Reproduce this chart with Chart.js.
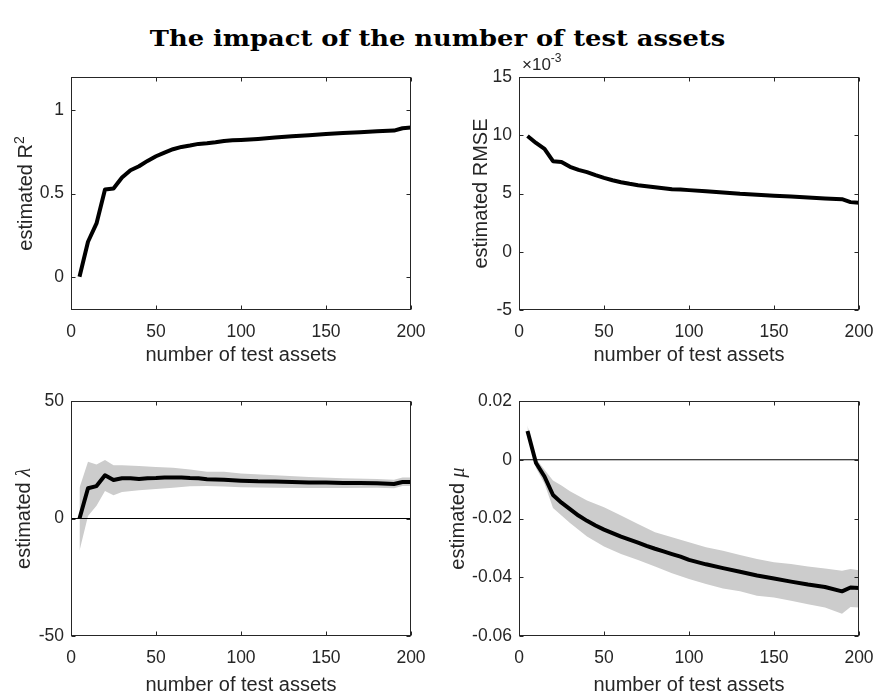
<!DOCTYPE html>
<html>
<head>
<meta charset="utf-8">
<script src="https://cdn.jsdelivr.net/npm/chart.js@4.4.1/dist/chart.umd.min.js"></script>
<style>
  body { margin: 0; background: #fff; }
  #fig { position: relative; width: 875px; height: 697px; overflow: hidden; background: #fff; }
  #fig h1 { position: absolute; left: 0; top: 25px; width: 875px; margin: 0; text-align: center;
            font: bold 22px "DejaVu Serif", serif; color: #000; transform: scaleX(1.17); }
  #fig canvas { position: absolute; }
</style>
</head>
<body>
<div id="fig">
  <h1>The impact of the number of test assets</h1>
  <canvas id="r2Chart"     width="427" height="330" style="left:0;top:40px"></canvas>
  <canvas id="rmseChart"   width="438" height="330" style="left:437px;top:40px"></canvas>
  <canvas id="lambdaChart" width="427" height="317" style="left:0;top:380px"></canvas>
  <canvas id="muChart"     width="438" height="317" style="left:437px;top:380px"></canvas>
</div>
<script>
// number of test assets in each run
var nAssets = [5, 10, 15, 20, 25, 30, 35, 40, 45, 50, 55, 60, 65, 70, 75, 80, 85, 90, 95, 100,
               110, 120, 130, 140, 150, 160, 170, 180, 190, 195, 200];

var r2 = [0, 0.21, 0.32, 0.524, 0.53, 0.596, 0.64, 0.664, 0.696, 0.724, 0.746, 0.766, 0.78, 0.788, 0.798,
          0.802, 0.808, 0.816, 0.82, 0.822, 0.828, 0.836, 0.844, 0.85, 0.858, 0.864, 0.868, 0.874, 0.878,
          0.892, 0.896];

var rmse = [0.00994, 0.00934, 0.00883, 0.00777, 0.00771, 0.00729, 0.00703, 0.00683, 0.00657, 0.00634,
            0.00614, 0.00597, 0.00583, 0.00571, 0.00563, 0.00554, 0.00546, 0.00537, 0.00534, 0.00529,
            0.0052, 0.00509, 0.00497, 0.00489, 0.0048, 0.00474, 0.00466, 0.00457, 0.00451, 0.00426, 0.0042];

var lambda = [0, 12.9, 13.8, 18.4, 16.4, 17.1, 17.1, 16.8, 17.1, 17.2, 17.4, 17.4, 17.4, 17.2, 17.1,
              16.7, 16.6, 16.5, 16.3, 16.1, 15.8, 15.7, 15.5, 15.3, 15.3, 15.1, 15.1, 15.0, 14.7, 15.5, 15.5];

var lambdaBandX = [5, 10, 15, 20, 25, 30, 40, 50, 60, 70, 80, 90, 100, 120, 140, 160, 180, 190, 195, 200];
var lambdaUpper = [13.1, 24.2, 23, 24.9, 22.7, 22.7, 22.3, 21.9, 21.6, 20.9, 19.9, 19.9, 19.1, 18.4,
                   17.7, 17.1, 16.8, 16.5, 17.4, 17.4];
var lambdaLower = [-13.7, 1.1, 5.4, 11.7, 9.9, 11.3, 12, 12.6, 13.1, 13.7, 13.8, 13.6, 13.3, 13.1,
                   13, 13, 13.1, 12.9, 13.8, 13.8];

var mu = [0.0098, -0.0011, -0.0057, -0.012, -0.0146, -0.0168, -0.019, -0.0208, -0.0224, -0.0238,
          -0.025, -0.0262, -0.0272, -0.0282, -0.0293, -0.0303, -0.0312, -0.0321, -0.033, -0.0341,
          -0.0356, -0.0369, -0.0381, -0.0394, -0.0404, -0.0415, -0.0425, -0.0433, -0.0448, -0.0435, -0.0437];

var muBandX = [5, 10, 15, 20, 25, 30, 40, 50, 60, 70, 80, 90, 100, 110, 120, 130, 140, 150, 160,
               170, 180, 190, 195, 200];
var muUpper = [0.0117, 0.0003, -0.0034, -0.0071, -0.0088, -0.0107, -0.0139, -0.0162, -0.019, -0.0219,
               -0.0247, -0.0264, -0.0281, -0.0298, -0.031, -0.0324, -0.0338, -0.0349, -0.0355, -0.0363,
               -0.037, -0.0378, -0.0372, -0.0376];
var muLower = [0.0089, -0.0028, -0.0082, -0.0164, -0.019, -0.0215, -0.0261, -0.0295, -0.0321, -0.0341,
               -0.0363, -0.0386, -0.0406, -0.0423, -0.0438, -0.0448, -0.0463, -0.0469, -0.048, -0.0492,
               -0.0503, -0.0524, -0.0501, -0.0503];

var xTicks = [0, 50, 100, 150, 200];
var r2Ticks = [0, 0.5, 1];
var rmseTicks = [-0.005, 0, 0.005, 0.01, 0.015];
var lambdaTicks = [-50, 0, 50];
var muTicks = [-0.06, -0.04, -0.02, 0, 0.02];

var AXIS_COLOR = '#262626';
var SANS = '"Liberation Sans", Arial, sans-serif';

function pts(xs, ys) {
    return xs.map(function (x, i) { return { x: x, y: ys[i] }; });
}

// MATLAB-like box: outline plus inward ticks on all four sides
var boxPlugin = {
    id: 'box',
    afterDatasetsDraw: function (chart) {
        var ctx = chart.ctx, a = chart.chartArea;
        var L = Math.round(a.left) + 0.5, R = Math.round(a.right) - 0.5;
        var T = Math.round(a.top) + 0.5, B = Math.round(a.bottom) - 0.5;
        ctx.save();
        ctx.strokeStyle = AXIS_COLOR;
        ctx.lineWidth = 1;
        ctx.strokeRect(L, T, R - L, B - T);
        ctx.beginPath();
        chart.scales.x.ticks.forEach(function (t) {
            var px = Math.round(chart.scales.x.getPixelForValue(t.value)) + 0.5;
            ctx.moveTo(px, B); ctx.lineTo(px, B - 4);
            ctx.moveTo(px, T); ctx.lineTo(px, T + 4);
        });
        chart.scales.y.ticks.forEach(function (t) {
            var py = Math.round(chart.scales.y.getPixelForValue(t.value)) + 0.5;
            ctx.moveTo(L, py); ctx.lineTo(L + 4, py);
            ctx.moveTo(R, py); ctx.lineTo(R - 4, py);
        });
        ctx.stroke();
        ctx.restore();
    }
};

// text made of several font runs (for superscripts and greek letters)
function drawRuns(ctx, runs, x0) {
    var x = x0;
    runs.forEach(function (r) {
        ctx.font = r.font;
        ctx.fillText(r.text, x, -(r.rise || 0));
        x += ctx.measureText(r.text).width;
    });
}
function runsWidth(ctx, runs) {
    var w = 0;
    runs.forEach(function (r) { ctx.font = r.font; w += ctx.measureText(r.text).width; });
    return w;
}

var labelPlugin = {
    id: 'labels',
    afterDraw: function (chart) {
        var cfg = chart.config.options.labelRuns;
        if (!cfg) return;
        var ctx = chart.ctx, a = chart.chartArea;
        ctx.save();
        ctx.fillStyle = AXIS_COLOR;
        ctx.textBaseline = 'alphabetic';
        ctx.textAlign = 'left';
        ctx.save();
        ctx.translate(cfg.yx, (a.top + a.bottom) / 2);
        ctx.rotate(-Math.PI / 2);
        drawRuns(ctx, cfg.y, -runsWidth(ctx, cfg.y) / 2);
        ctx.restore();
        if (cfg.exp) {
            ctx.translate(a.left + 3, a.top - 7);
            drawRuns(ctx, cfg.exp, 0);
        }
        ctx.restore();
    }
};

function makePanel(id, p) {
    var ctx = document.getElementById(id).getContext('2d');
    return new Chart(ctx, {
        type: 'line',
        data: { datasets: p.datasets },
        plugins: [boxPlugin, labelPlugin],
        options: {
            responsive: false,
            animation: false,
            layout: { padding: { top: p.padTop, right: 16, left: 0, bottom: 0 } },
            elements: { point: { radius: 0 }, line: { tension: 0 } },
            labelRuns: p.labels,
            scales: {
                x: {
                    type: 'linear', min: 0, max: 200,
                    afterBuildTicks: function (s) { s.ticks = xTicks.map(function (v) { return { value: v }; }); },
                    afterFit: function (s) {
                        s.height = p.xHeight;
                        // the end labels overhang into the canvas margin, not the plot
                        s.paddingLeft = 0;
                        s.paddingRight = 0;
                    },
                    grid: { display: false, drawTicks: false },
                    border: { display: false },
                    ticks: {
                        padding: 12, color: AXIS_COLOR, maxRotation: 0,
                        font: { family: SANS, size: 17.5 },
                        callback: function (v) { return String(v); }
                    },
                    title: {
                        display: true, text: 'number of test assets', color: AXIS_COLOR,
                        font: { family: SANS, size: 20 },
                        padding: { top: 0, bottom: p.xTitlePad }
                    }
                },
                y: {
                    type: 'linear', min: p.yMin, max: p.yMax,
                    afterBuildTicks: function (s) { s.ticks = p.yTicks.map(function (v) { return { value: v }; }); },
                    afterFit: function (s) {
                        s.width = p.yWidth;
                        s.paddingTop = 0;
                        s.paddingBottom = 0;
                    },
                    grid: { display: false, drawTicks: false },
                    border: { display: false },
                    ticks: {
                        padding: 7, color: AXIS_COLOR,
                        font: { family: SANS, size: 17.5 },
                        callback: p.fmt
                    }
                }
            },
            plugins: { legend: { display: false }, tooltip: { enabled: false } }
        }
    });
}

function mainLine(xs, ys) {
    return { data: pts(xs, ys), borderColor: '#000', borderWidth: 4, borderJoinStyle: 'round',
             fill: false, order: 0 };
}
function zeroLine() {
    return { data: pts([0, 200], [0, 0]), borderColor: '#000', borderWidth: 1, fill: false, order: 1 };
}
function band(xs, lo, hi) {
    return [
        { data: pts(xs, lo), borderWidth: 0, borderColor: 'rgba(0,0,0,0)', fill: false, order: 2 },
        { data: pts(xs, hi), borderWidth: 0, borderColor: 'rgba(0,0,0,0)', backgroundColor: '#cccccc',
          fill: '-1', order: 2 }
    ];
}

var label20 = '20px ' + SANS;
var greek = 'italic 20px "Liberation Serif", serif';

makePanel('r2Chart', {
    datasets: [mainLine(nAssets, r2)],
    yMin: -0.2, yMax: 1.2, yTicks: r2Ticks, yWidth: 71, padTop: 37, xHeight: 60, xTitlePad: 3,
    fmt: function (v) { return String(v); },
    labels: { yx: 32, y: [{ text: 'estimated R', font: label20 }, { text: '2', font: '14px ' + SANS, rise: 8 }] }
});

makePanel('rmseChart', {
    datasets: [mainLine(nAssets, rmse)],
    yMin: -0.005, yMax: 0.015, yTicks: rmseTicks, yWidth: 82, padTop: 37, xHeight: 60, xTitlePad: 3,
    fmt: function (v) { return String(Math.round(v * 1000)); },
    labels: {
        yx: 50, y: [{ text: 'estimated RMSE', font: label20 }],
        exp: [{ text: '\u00d710', font: '17px ' + SANS }, { text: '-3', font: '12px ' + SANS, rise: 8 }]
    }
});

makePanel('lambdaChart', {
    datasets: [mainLine(nAssets, lambda), zeroLine()].concat(band(lambdaBandX, lambdaLower, lambdaUpper)),
    yMin: -50, yMax: 50, yTicks: lambdaTicks, yWidth: 71, padTop: 21, xHeight: 61, xTitlePad: 0,
    fmt: function (v) { return String(v); },
    labels: { yx: 30, y: [{ text: 'estimated ', font: label20 }, { text: '\u03bb', font: greek }] }
});

makePanel('muChart', {
    datasets: [mainLine(nAssets, mu), zeroLine()].concat(band(muBandX, muLower, muUpper)),
    yMin: -0.06, yMax: 0.02, yTicks: muTicks, yWidth: 82, padTop: 21, xHeight: 61, xTitlePad: 0,
    fmt: function (v) { return v === 0 ? '0' : (Math.round(v * 100) / 100).toFixed(2); },
    labels: { yx: 27, y: [{ text: 'estimated ', font: label20 }, { text: '\u03bc', font: greek }] }
});
</script>
</body>
</html>
